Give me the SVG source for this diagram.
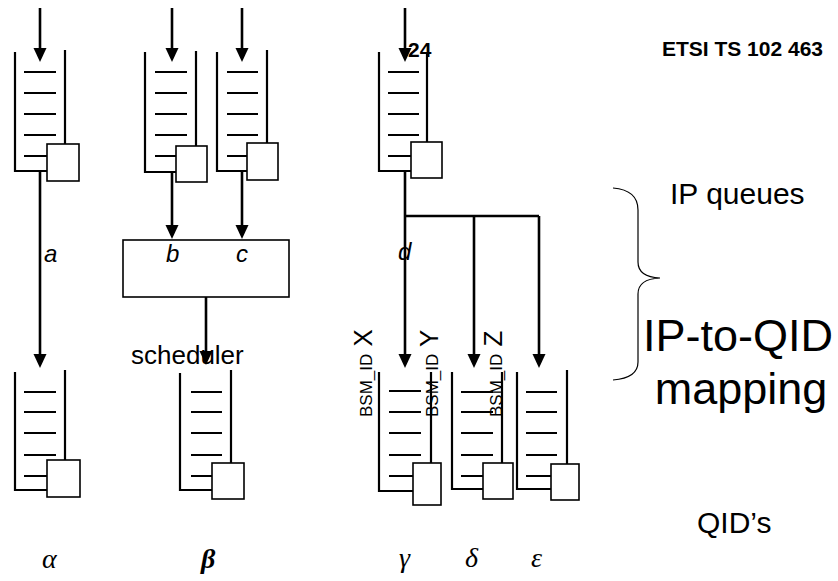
<svg xmlns="http://www.w3.org/2000/svg" width="838" height="581" viewBox="0 0 838 581">
<style>
.w{fill:none;stroke:#000;stroke-width:2.2}
.b{fill:#fff;stroke:#000;stroke-width:1.6}
.c{fill:none;stroke:#000;stroke-width:2.6}
.t{font-family:"Liberation Sans",Arial,sans-serif;fill:#000}
.i{font-family:"Liberation Sans",Arial,sans-serif;font-style:italic;font-size:24px;fill:#000}
.g{font-family:"Liberation Serif","Times New Roman",serif;font-style:italic;font-size:28px;fill:#000}
</style>
<defs>
<marker id="ah" markerUnits="userSpaceOnUse" markerWidth="14" markerHeight="14" viewBox="0 0 14 14" refX="2" refY="7" orient="auto">
<path d="M0,0.5 L14,7 L0,13.5 z" fill="#000"/>
</marker>
</defs>
<rect width="838" height="581" fill="#fff"/>
<text class="t" x="408" y="57" font-size="21" font-weight="bold">24</text>
<text class="t" x="823" y="56" font-size="21" font-weight="bold" text-anchor="end">ETSI TS 102 463</text>

<g id="connectors">
<path class="c" marker-end="url(#ah)" d="M40,8 V50"/>
<path class="c" marker-end="url(#ah)" d="M172,8 V50"/>
<path class="c" marker-end="url(#ah)" d="M242,8 V50"/>
<path class="c" marker-end="url(#ah)" d="M405,8 V50"/>
<path class="c" marker-end="url(#ah)" d="M40,171 V356"/>
<path class="c" marker-end="url(#ah)" d="M172,171 V227"/>
<path class="c" marker-end="url(#ah)" d="M242,171 V227"/>
<path class="c" marker-end="url(#ah)" d="M206,297 V353"/>
<path class="c" marker-end="url(#ah)" d="M405,171 V356"/>
<path class="c" d="M405,216 H539" stroke-width="3.4"/>
<path class="c" marker-end="url(#ah)" d="M474,216 V356"/>
<path class="c" marker-end="url(#ah)" d="M539,216 V356"/>
</g>

<g id="q-in-a">
<path class="w" d="M15,52 V171 H47 M65,50 V144 M24,72 H56 M24,93 H56 M24,114 H56 M24,135 H56 M24,156 H47"/>
<rect class="b" x="47" y="144" width="32" height="37"/>
</g>
<g id="q-in-b">
<path class="w" d="M145,52 V172 H176 M196,51 V146 M155,72 H187 M155,93 H187 M155,114 H187 M155,135 H187 M155,156 H176"/>
<rect class="b" x="176" y="146" width="31" height="36"/>
</g>
<g id="q-in-c">
<path class="w" d="M217,52 V171 H247 M267,50 V143 M227,72 H258 M227,93 H258 M227,114 H258 M227,135 H258 M227,156 H247"/>
<rect class="b" x="247" y="143" width="31" height="37"/>
</g>
<g id="q-in-d">
<path class="w" d="M379,52 V171 H411 M427,52 V142 M388,72 H419 M388,93 H419 M388,114 H419 M388,135 H419 M388,156 H411"/>
<rect class="b" x="411" y="142" width="31" height="36"/>
</g>

<g id="scheduler">
<rect class="b" x="123" y="240" width="166" height="57" stroke-width="2"/>
</g>

<g id="labels">
<text class="i" x="44" y="262">a</text>
<text class="i" x="166" y="262">b</text>
<text class="i" x="236" y="262">c</text>
<text class="i" x="398" y="260">d</text>
<text class="t" x="131" y="364" font-size="26">scheduler</text>
</g>

<g id="q-out-alpha">
<path class="w" d="M15,372 V490 H47 M65,370 V460 M24,392 H56 M24,412 H56 M24,433 H56 M24,455 H56 M24,476 H47"/>
<rect class="b" x="47" y="460" width="33" height="37"/>
</g>
<g id="q-out-beta">
<path class="w" d="M180,373 V490 H212 M231,370 V463 M191,392 H222 M191,412 H222 M191,433 H222 M191,455 H222 M191,476 H212"/>
<rect class="b" x="212" y="463" width="32" height="36"/>
</g>
<g id="q-out-gamma">
<path class="w" d="M379,372 V491 H413 M431,372 V463 M389,391 H421 M389,412 H421 M389,433 H421 M389,455 H421 M389,476 H413"/>
<rect class="b" x="413" y="463" width="28" height="42"/>
</g>
<g id="q-out-delta">
<path class="w" d="M452,372 V489 H483 M502,372 V463 M461,392 H493 M461,412 H493 M461,433 H493 M461,455 H493 M461,476 H483"/>
<rect class="b" x="483" y="463" width="30" height="36"/>
</g>
<g id="q-out-epsilon">
<path class="w" d="M517,372 V489 H551 M567,370 V464 M526,392 H557 M526,412 H557 M526,433 H557 M526,455 H557 M526,476 H551"/>
<rect class="b" x="551" y="464" width="28" height="36"/>
</g>

<g id="bsm-labels">
<text class="t" font-size="17" transform="translate(372,417) rotate(-90)">BSM_ID<tspan font-size="26"> X</tspan></text>
<text class="t" font-size="17" transform="translate(438,417) rotate(-90)">BSM_ID<tspan font-size="26"> Y</tspan></text>
<text class="t" font-size="17" transform="translate(502,417) rotate(-90)">BSM_ID<tspan font-size="26"> Z</tspan></text>
</g>

<g id="brace">
<path d="M613,188 Q638,190 638,210 V262 Q638,277 660,278 Q638,279 638,294 V362 Q638,378 613,380" fill="none" stroke="#000" stroke-width="1.2"/>
</g>

<g id="side-text">
<text class="t" x="670" y="204" font-size="30">IP queues</text>
<text class="t" x="738" y="351" font-size="45" text-anchor="middle">IP-to-QID</text>
<text class="t" x="741" y="404" font-size="45" text-anchor="middle">mapping</text>
<text class="t" x="697" y="533" font-size="30">QID’s</text>
</g>

<g id="greek">
<text class="g" x="42" y="568">α</text>
<text class="g" x="201" y="568" font-weight="bold">β</text>
<text class="g" x="399" y="567">γ</text>
<text class="g" x="465" y="567">δ</text>
<text class="g" x="531" y="567">ε</text>
</g>
</svg>
